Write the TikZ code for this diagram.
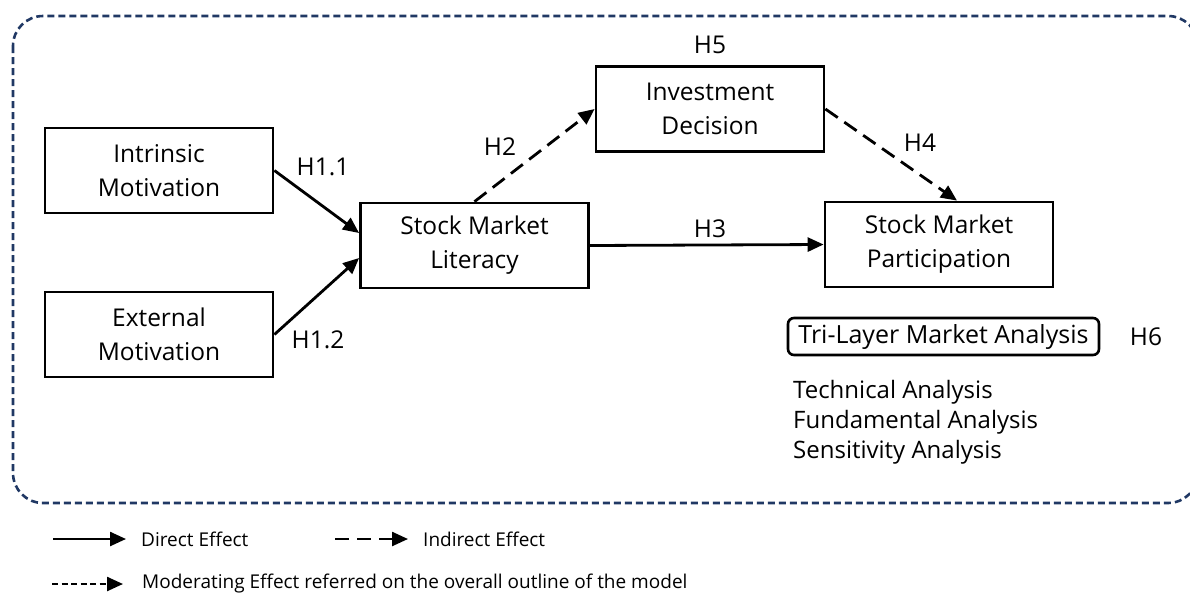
\documentclass[tikz,border=0pt]{standalone}
\usepackage{fontspec}
\setmainfont{Open Sans}
\usetikzlibrary{arrows.meta}
\definecolor{navy}{HTML}{203864}
\tikzset{
  tip/.style={-{Triangle[length=16pt,width=14pt]}},
  box/.style={draw=black, line width=2.8pt, minimum width=228pt, minimum height=85pt,
    inner sep=0pt, align=center, font=\fontsize{24.5}{34}\selectfont},
  lbl/.style={inner sep=0pt, font=\fontsize{24.5}{28}\selectfont},
  legtext/.style={inner sep=0pt, anchor=west, font=\fontsize{19}{24}\selectfont},
  direct/.style={line width=2.8pt, tip},
  indirect/.style={line width=2.8pt, dash pattern=on 15pt off 8pt, tip},
  moderate/.style={line width=2.4pt, dash pattern=on 6pt off 3.5pt, tip},
  outline/.style={draw=navy, line width=2.6pt, dash pattern=on 7pt off 4pt, rounded corners=30pt}
}
\begin{document}
\begin{tikzpicture}[x=1pt, y=-1pt]
\useasboundingbox (0,0) rectangle (1190,592);

% overall outline of the model (moderating effect)
\draw[outline] (13,16) rectangle (1198,503);

% constructs
\node[box] (im)  at (159,170.5)   {Intrinsic\\Motivation};
\node[box] (em)  at (159,334.5)   {External\\Motivation};
\node[box] (sml) at (474.5,245.5) {Stock Market\\Literacy};
\node[box] (inv) at (710,109)     {Investment\\Decision};
\node[box] (smp) at (939,244.5)   {Stock Market\\Participation};

% paths
\draw[direct]   (im.east)  -- ([yshift=12.5pt]sml.west);
\draw[direct]   (em.east)  -- ([yshift=-12.5pt]sml.west);
\draw[indirect] (sml.north) -- (inv.west);
\draw[indirect] (inv.east) -- ([xshift=18pt]smp.north);
\draw[direct]   (sml.east) -- (smp.west);

% hypothesis labels
\node[lbl] (h11) at (323,167) {H1.1};
\node[lbl] (h12) at (318,340) {H1.2};
\node[lbl] (h2)  at (500,147) {H2};
\node[lbl] (h3)  at (710,229) {H3};
\node[lbl] (h4)  at (920,143) {H4};
\node[lbl] (h5)  at (710,45)  {H5};

% moderator
\node[draw=black, line width=2.6pt, rounded corners=6pt, minimum width=311pt, minimum height=37pt,
      inner sep=0pt, font=\fontsize{25}{28}\selectfont] (tri) at (943.5,336.5) {Tri-Layer Market Analysis};
\node[lbl] (h6) at (1146,337) {H6};
\node[inner sep=0pt, anchor=north west, align=left, font=\fontsize{24}{30}\selectfont] (sub) at (793,380)
  {Technical Analysis\\Fundamental Analysis\\Sensitivity Analysis};

% legend
\coordinate (d1) at (53,539);  \coordinate (d2) at (126,539);
\coordinate (i1) at (335,539); \coordinate (i2) at (408,539);
\coordinate (m1) at (52,584);  \coordinate (m2) at (123,584);
\draw[direct, line width=2.4pt]   (d1) -- (d2);
\draw[line width=2.4pt, dash pattern=on 14pt off 8pt, tip] (i1) -- (i2);
\draw[moderate] (m1) -- (m2);
\node[legtext] (ld) at (141,539) {Direct Effect};
\node[legtext] (li) at (423,539) {Indirect Effect};
\node[legtext] (lm) at (142,584) {Moderating Effect referred on the overall outline of the model};
\end{tikzpicture}
\end{document}
